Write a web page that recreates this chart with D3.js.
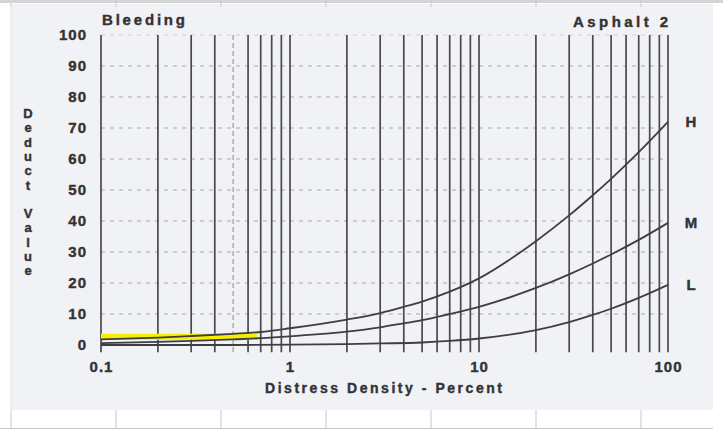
<!DOCTYPE html>
<html>
<head>
<meta charset="utf-8">
<script src="https://cdn.jsdelivr.net/npm/d3@7"></script>
<style>
  html, body { margin: 0; padding: 0; background: #ffffff; }
  svg { display: block; }
  text { font-family: "Liberation Sans", Arial, sans-serif; font-weight: bold; fill: #333336; stroke: #333336; stroke-width: 0.4px; }
</style>
</head>
<body>
<svg id="chart" width="723" height="430"></svg>
<script>
// ---- data ----
const densityH = [0.1, 0.2, 0.3, 0.5, 0.7, 1, 2, 3, 4, 5, 7, 10, 20, 30, 40, 50, 70, 100];
const deductH  = [1.8, 2.4, 2.9, 3.6, 4.2, 5.4, 8.2, 10.3, 12.3, 14, 17.2, 21.5, 33.5, 41.8, 48.3, 53.6, 62.2, 72];
const densityM = [0.1, 0.2, 0.3, 0.5, 0.7, 1, 2, 3, 4, 5, 7, 10, 20, 30, 40, 50, 70, 100];
const deductM  = [0.6, 1.0, 1.3, 1.8, 2.2, 2.8, 4.3, 5.7, 7, 8, 10, 12.3, 18.4, 22.8, 26.3, 29.2, 33.9, 39.4];
const densityL = [0.1, 0.3, 0.5, 1, 2, 3, 5, 7, 10, 20, 30, 40, 50, 70, 100];
const deductL  = [0, 0, 0, 0.1, 0.3, 0.5, 0.8, 1.3, 2.1, 4.8, 7.4, 9.7, 11.7, 15.2, 19.4];
const seriesNames = ["H", "M", "L"];
const highlightX = [0.1, 0.67];
const highlightY = 2.7;
const yTicks = [0, 10, 20, 30, 40, 50, 60, 70, 80, 90, 100];
const xTickLabels = [0.1, 1, 10, 100];
const xGridValues = [];
[0.1, 1, 10].forEach(d => { for (let k = 1; k <= 9; k++) xGridValues.push(+(d * k).toPrecision(3)); });
xGridValues.push(100);

// ---- layout ----
const svg = d3.select("#chart");
const x = d3.scaleLog().domain([0.1, 100]).range([101, 668]);
const y = d3.scaleLinear().domain([0, 100]).range([345, 35]);

// scanned page background + table borders
svg.append("rect").attr("x", 11).attr("y", 4).attr("width", 702).attr("height", 406).attr("fill", "#f1f2f6");
svg.append("rect").attr("x", 0).attr("y", 0).attr("width", 723).attr("height", 3).attr("fill", "#d4d4d4");
const cols = [11, 116, 221, 326, 431, 536, 641];
cols.forEach(c => {
  svg.append("line").attr("x1", c).attr("x2", c).attr("y1", 410).attr("y2", 428).attr("stroke", "#c8c8c8").attr("stroke-width", 1);
  svg.append("line").attr("x1", c).attr("x2", c).attr("y1", 0).attr("y2", 7).attr("stroke", "#c8c8c8").attr("stroke-width", 1);
});
svg.append("line").attr("x1", 11).attr("x2", 11).attr("y1", 0).attr("y2", 410).attr("stroke", "#e2e3e6");
svg.append("line").attr("x1", 0).attr("x2", 713).attr("y1", 428.5).attr("y2", 428.5).attr("stroke", "#c8c8c8");

// horizontal dashed grid
const g = svg.append("g");
g.selectAll("line.h").data(yTicks.filter(v => v > 0)).join("line")
  .attr("class", "h")
  .attr("x1", x(0.1)).attr("x2", x(100))
  .attr("y1", d => y(d)).attr("y2", d => y(d))
  .attr("stroke", d => d === 100 ? "#cfcfd2" : "#a9a9ad")
  .attr("stroke-width", 1)
  .attr("stroke-dasharray", "4,5");

// vertical log grid
g.selectAll("line.v").data(xGridValues).join("line")
  .attr("class", "v")
  .attr("x1", d => x(d)).attr("x2", d => x(d))
  .attr("y1", y(100)).attr("y2", y(-2.3))
  .attr("stroke", d => Math.abs(d - 0.5) < 1e-9 ? "#8a8a8e" : "#4a4a4e")
  .attr("stroke-width", d => Math.abs(d - 0.5) < 1e-9 ? 1 : 1.7)
  .attr("stroke-dasharray", d => Math.abs(d - 0.5) < 1e-9 ? "5,3" : null);

// highlight
svg.append("line")
  .attr("x1", x(highlightX[0])).attr("x2", x(highlightX[1]))
  .attr("y1", y(highlightY)).attr("y2", y(highlightY))
  .attr("stroke", "#f6f000").attr("stroke-width", 6);

// curves
const line = d3.line().x(d => x(d[0])).y(d => y(d[1])).curve(d3.curveMonotoneX);
const series = [
  { name: seriesNames[0], pts: densityH.map((d, i) => [d, deductH[i]]) },
  { name: seriesNames[1], pts: densityM.map((d, i) => [d, deductM[i]]) },
  { name: seriesNames[2], pts: densityL.map((d, i) => [d, deductL[i]]) }
];
svg.selectAll("path.curve").data(series).join("path")
  .attr("class", "curve")
  .attr("d", d => line(d.pts))
  .attr("fill", "none").attr("stroke", "#3e3e42").attr("stroke-width", 1.8);

// curve labels
svg.selectAll("text.cl").data(series).join("text")
  .attr("class", "cl")
  .attr("x", 691)
  .attr("y", d => y(d.pts[d.pts.length - 1][1]) + 5)
  .attr("text-anchor", "middle")
  .attr("font-size", 15)
  .text(d => d.name);

// y axis
const yAxis = d3.axisLeft(y).tickValues(yTicks).tickSize(0).tickPadding(14).tickFormat(d3.format("d"));
const ya = svg.append("g").attr("transform", `translate(${x(0.1)},0)`).call(yAxis);
ya.select(".domain").remove();
ya.selectAll("text").attr("font-size", 15).attr("letter-spacing", 1)
  .style("font-family", '"Liberation Sans", Arial, sans-serif').style("font-weight", "bold")
  .style("fill", "#333336").style("stroke", "#333336").style("stroke-width", "0.4px");

// x axis
const xAxis = d3.axisBottom(x).tickValues(xTickLabels).tickSize(0).tickPadding(16).tickFormat(d => String(d));
const xa = svg.append("g").attr("transform", `translate(0,${y(0)})`).call(xAxis);
xa.select(".domain").remove();
xa.selectAll("text").attr("font-size", 15).attr("letter-spacing", 1)
  .style("font-family", '"Liberation Sans", Arial, sans-serif').style("font-weight", "bold")
  .style("fill", "#333336").style("stroke", "#333336").style("stroke-width", "0.4px");

// titles
svg.append("text").attr("x", 102).attr("y", 25).attr("font-size", 15)
  .attr("textLength", 83).attr("lengthAdjust", "spacing").text("Bleeding");
svg.append("text").attr("x", 573).attr("y", 27).attr("font-size", 15)
  .attr("textLength", 95).attr("lengthAdjust", "spacing").text("Asphalt 2");
svg.append("text").attr("x", 265).attr("y", 393).attr("font-size", 14)
  .attr("textLength", 237).attr("lengthAdjust", "spacing").text("Distress Density - Percent");

// vertical y title
const yTitle = "Deduct Value";
const yt = svg.append("text").attr("font-size", 13).attr("text-anchor", "middle");
yTitle.split("").forEach((ch, i) => {
  if (ch === " ") return;
  yt.append("tspan").attr("x", 28).attr("y", 118 + i * 14.3).text(ch);
});
</script>
</body>
</html>
